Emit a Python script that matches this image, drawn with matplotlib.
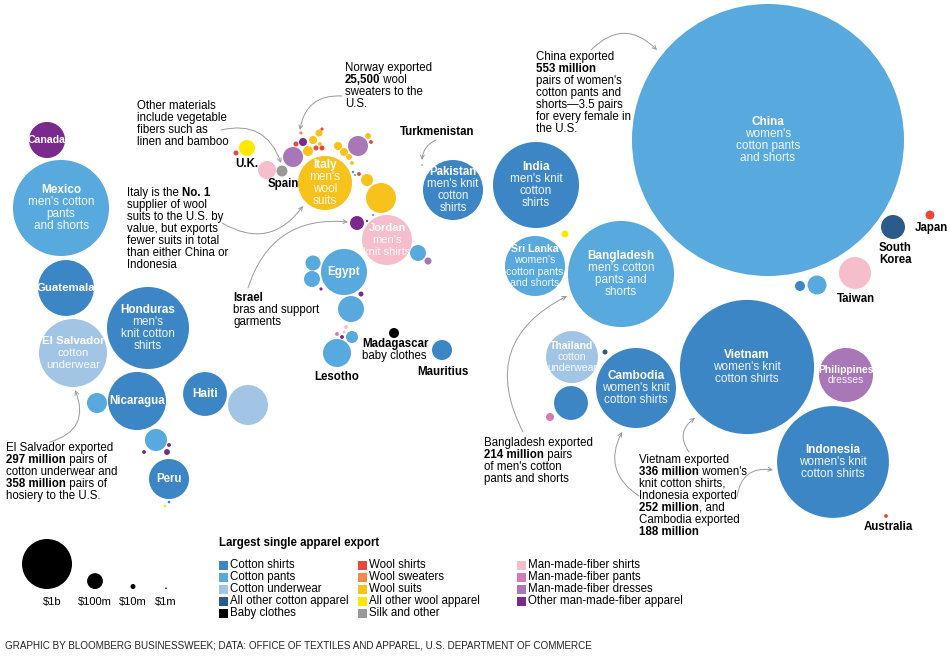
import numpy as np
import matplotlib.pyplot as plt
from matplotlib.patches import Circle, Rectangle

plt.rcParams['font.family'] = ['Liberation Sans', 'DejaVu Sans']

# category colours (largest single apparel export)
colors = {
    'cs': '#3d86c6', 'cp': '#58a9de', 'cu': '#a3c5e5', 'co': '#2b5b8a', 'bb': '#000000',
    'ws': '#e8493b', 'wsw': '#f28a50', 'wsu': '#f7c21c', 'wo': '#ffe800', 'si': '#999999',
    'ms': '#f6bdcb', 'mp': '#d87aae', 'md': '#a976b8', 'mo': '#7a2a8c',
}
legend_cols = [
    [('cs', 'Cotton shirts'), ('cp', 'Cotton pants'), ('cu', 'Cotton underwear'),
     ('co', 'All other cotton apparel'), ('bb', 'Baby clothes')],
    [('ws', 'Wool shirts'), ('wsw', 'Wool sweaters'), ('wsu', 'Wool suits'),
     ('wo', 'All other wool apparel'), ('si', 'Silk and other')],
    [('ms', 'Man-made-fiber shirts'), ('mp', 'Man-made-fiber pants'),
     ('md', 'Man-made-fiber dresses'), ('mo', 'Other man-made-fiber apparel')],
]

# countries labelled inside their bubble
names = ['China', 'Vietnam', 'Indonesia', 'Bangladesh', 'Mexico', 'India', 'Honduras',
         'Cambodia', 'El Salvador', 'Pakistan', 'Sri Lanka', 'Nicaragua', 'Guatemala',
         'Italy', 'Philippines', 'Thailand', 'Jordan', 'Egypt', 'Haiti', 'Peru', 'Canada']
products = ["women's\ncotton pants\nand shorts", "women's knit\ncotton shirts",
            "women's knit\ncotton shirts", "men's cotton\npants and\nshorts",
            "men's cotton\npants\nand shorts", "men's knit\ncotton\nshirts",
            "men's\nknit cotton\nshirts", "women's knit\ncotton shirts", "cotton\nunderwear",
            "men's knit\ncotton\nshirts", "women's\ncotton pants\nand shorts", "", "",
            "men's\nwool\nsuits", "dresses", "cotton\nunderwear", "men's\nknit shirts",
            "", "", "", ""]
values = [29600, 7200, 5000, 4500, 3690, 2960, 2690, 2560, 1850, 1440, 1440, 1350, 1250,
          1170, 1170, 1080, 1000, 850, 770, 640, 520]   # $ millions
kinds = ['cp', 'cs', 'cs', 'cp', 'cp', 'cs', 'cs', 'cs', 'cu', 'cs', 'cp', 'cs', 'cs',
         'wsu', 'md', 'cu', 'ms', 'cp', 'cs', 'cs', 'mo']
label_pt = [8.5, 8.5, 8.5, 8.5, 8.5, 8.5, 8.5, 8.5, 8.2, 8.3, 7.6, 8.3, 8.2,
            8.5, 7.4, 7.6, 8.0, 8.5, 8.5, 8.3, 7.6]
pos_x = [768, 747, 833, 621, 61, 536, 148, 636, 73, 453, 535, 137, 66,
         325, 846, 572, 387, 344, 205, 169, 47]
pos_y = [140, 367, 462, 274, 208, 185, 328, 388, 353, 190, 266, 401, 288,
         183, 375, 357, 240, 272, 394, 479, 140]

# smaller bubbles (some named outside)
small_values = [640, 460, 410, 360, 314, 270, 230, 194, 160, 160, 160, 160, 144, 130,
                102, 102, 90, 102, 78, 58, 58, 48, 40, 40, 40, 32, 26, 26, 26, 26, 26,
                20, 20, 20, 14, 14, 6, 14, 6, 10, 10, 10, 10, 10, 10, 6, 6, 6, 6, 6,
                6, 6, 4, 4, 4, 4, 6, 2, 2, 2, 2, 3, 3, 2]
small_kinds = ['cu', 'cs', 'ms', 'wsu', 'cp', 'cp', 'co', 'cp', 'cs', 'cp', 'md', 'md',
               'cp', 'ms', 'wo', 'cp', 'cp', 'cp', 'mo', 'wsu', 'cp', 'si', 'wsu', 'bb',
               'cs', 'ws', 'mo', 'wsu', 'wsu', 'wsu', 'mp', 'wo', 'wsu', 'md', 'wsu',
               'wsu', 'mo', 'mo', 'mo', 'ws', 'ws', 'ws', 'ws', 'co', 'mo', 'wsu', 'wsu',
               'ws', 'ws', 'ms', 'mp', 'mo', 'ms', 'mo', 'wsw', 'ws', 'ws', 'cs', 'cp',
               'cp', 'mo', 'cs', 'wo', 'cu']
small_x = [248, 571, 855, 381, 337, 351, 893, 156, 442, 97, 293, 358, 817, 267,
           247, 418, 313, 312, 357, 367, 352, 282, 308, 394, 800, 930, 303, 313, 338,
           344, 550, 565, 319, 428, 349, 368, 169, 167, 144, 296, 316, 322, 236, 605,
           361, 352, 320, 371, 359, 346, 337, 342, 344, 321, 301, 322, 886, 353, 355,
           373, 367, 169, 165, 422]
small_y = [405, 403, 273, 198, 353, 309, 227, 440, 350, 403, 157, 146, 285, 170,
           148, 253, 263, 279, 223, 180, 337, 171, 151, 333, 286, 215, 142, 140, 146,
           152, 417, 234, 133, 261, 157, 136, 445, 452, 452, 144, 148, 148, 153, 352,
           294, 163, 144, 142, 174, 327, 334, 337, 332, 289, 133, 129, 516, 172, 175,
           215, 221, 502, 506, 165]

outside_labels = [('U.K.', 247, 164), ('Spain', 283, 184), ('Turkmenistan', 437, 132),
                  ('Lesotho', 337, 377), ('Mauritius', 443, 372), ('South\nKorea', 895, 254),
                  ('Japan', 931, 228), ('Taiwan', 856, 299), ('Australia', 888, 527)]

size_legend = [1000, 100, 10, 1]
size_labels = ['$1b', '$100m', '$10m', '$1m']


def radius(v):
    return 25 * np.sqrt(v / 1000)


fig = plt.figure(figsize=(9.5, 6.67), dpi=100)
ax = fig.add_axes([0, 0, 1, 1])
ax.set_xlim(0, 950)
ax.set_ylim(667, 0)
ax.axis('off')

for v, k, x, y in zip(small_values, small_kinds, small_x, small_y):
    ax.add_patch(Circle((x, y), radius(v), color=colors[k], lw=0))

for n, p, v, k, s, x, y in zip(names, products, values, kinds, label_pt, pos_x, pos_y):
    ax.add_patch(Circle((x, y), radius(v), color=colors[k], lw=0))
    lines = [n] + (p.split('\n') if p else [])
    step = s * 1.45
    top = y - step * (len(lines) - 1) / 2
    for i, line in enumerate(lines):
        ax.text(x, top + i * step, line, color='white', fontsize=s, ha='center', va='center',
                fontweight='bold' if i == 0 else 'normal', alpha=1 if i == 0 else 0.92)

for t, x, y in outside_labels:
    ax.text(x, y, t, fontsize=8.3, fontweight='bold', ha='center', va='center',
            linespacing=1.0)
ax.text(362, 344, 'Madagascar', fontsize=8.3, fontweight='bold', va='center')
ax.text(362, 356, 'baby clothes', fontsize=8.3, va='center')


def rich(x, y, lines, step=12, size=8.3):
    # each line is a list of (text, bold) parts drawn one after another
    for i, parts in enumerate(lines):
        if isinstance(parts, str):
            parts = [(parts, False)]
        prev = None
        for txt, bold in parts:
            w = 'bold' if bold else 'normal'
            if prev is None:
                prev = ax.text(x, y + i * step, txt, fontsize=size, fontweight=w, va='center')
            else:
                prev = ax.annotate(txt, xy=(1, 0.5), xycoords=prev, fontsize=size,
                                   fontweight=w, va='center', ha='left')


def arrow(x0, y0, x1, y1, rad):
    ax.annotate('', xy=(x1, y1), xytext=(x0, y0),
                arrowprops=dict(arrowstyle='->', color='#9a9a9a', lw=0.7,
                                shrinkA=0, shrinkB=0, mutation_scale=7,
                                connectionstyle=f'arc3,rad={rad}'))


rich(345, 68, ['Norway exported', [('25,500', True), (' wool', False)], 'sweaters to the', 'U.S.'])
arrow(342, 96, 300, 130, 0.45)
rich(137, 106, ['Other materials', 'include vegetable', 'fibers such as', 'linen and bamboo'])
arrow(221, 130, 281, 163, -0.45)
rich(127, 193, [[('Italy is the ', False), ('No. 1', True)], 'supplier of wool',
                'suits to the U.S. by', 'value, but exports', 'fewer suits in total',
                'than either China or', 'Indonesia'])
arrow(222, 223, 303, 206, 0.45)
rich(233, 298, [[('Israel', True)], 'bras and support', 'garments'])
arrow(248, 288, 348, 222, -0.4)
rich(6, 448, ['El Salvador exported', [('297 million', True), (' pairs of', False)],
              'cotton underwear and', [('358 million', True), (' pairs of', False)],
              'hosiery to the U.S.'])
arrow(50, 442, 75, 390, 0.55)
arrow(436, 140, 422, 160, 0.3)
rich(536, 57, ['China exported', [('553 million', True)], "pairs of women's",
               'cotton pants and', 'shorts\u20143.5 pairs', 'for every female in', 'the U.S.'])
arrow(591, 50, 657, 50, -0.5)
rich(484, 443, ['Bangladesh exported', [('214 million', True), (' pairs', False)],
                "of men's cotton", 'pants and shorts'])
arrow(523, 432, 567, 296, -0.5)
rich(639, 460, ['Vietnam exported', [('336 million', True), (" women's", False)],
                'knit cotton shirts,', 'Indonesia exported',
                [('252 million', True), (', and', False)], 'Cambodia exported',
                [('188 million', True)]])
arrow(639, 496, 622, 432, -0.45)
arrow(689, 452, 695, 418, -0.5)
arrow(737, 497, 773, 470, -0.5)

# size legend
size_x = [47, 95, 133, 166]
for v, lab, x in zip(size_legend, size_labels, size_x):
    r = radius(v)
    ax.add_patch(Circle((x, 589 - r), r, color='black', lw=0))
    ax.text(x + (5 if v == 1000 else 0), 602, lab, fontsize=8, ha='center', va='center')

# colour legend
ax.text(219, 543, 'Largest single apparel export', fontsize=8.3, fontweight='bold', va='center')
for cx, col in zip([219, 358, 517], legend_cols):
    for i, (k, lab) in enumerate(col):
        y = 565 + i * 12
        ax.add_patch(Rectangle((cx, y - 4.5), 9, 9, color=colors[k], lw=0))
        ax.text(cx + 11, y, lab, fontsize=8.3, va='center')

ax.text(5, 645, 'GRAPHIC BY BLOOMBERG BUSINESSWEEK; DATA: OFFICE OF TEXTILES AND APPAREL, '
        'U.S. DEPARTMENT OF COMMERCE', fontsize=7.1, va='center', color='#222222')

fig.savefig('out.png', dpi=100)
